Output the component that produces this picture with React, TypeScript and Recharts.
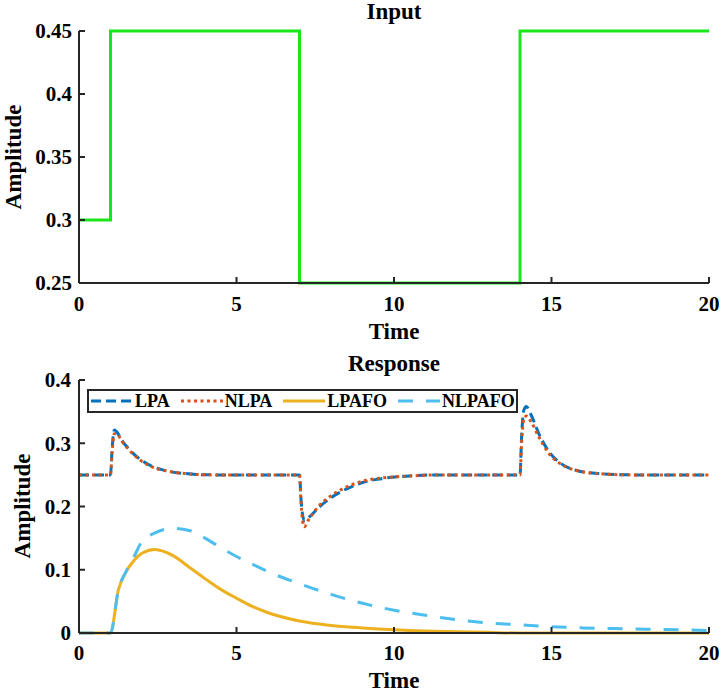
import { LineChart, Line, XAxis, YAxis, Legend } from 'recharts'

const FONT = '"Liberation Serif", "Times New Roman", serif'
const AXIS = '#262626'

// Input: step signal
const inputTime = [0, 1, 7, 14, 20]
const inputAmp = [0.3, 0.45, 0.25, 0.45, 0.45]

// Response: LPA / NLPA
const paTime = [0, 1, 1.05, 1.12, 1.2, 1.35, 1.6, 1.9, 2.3, 2.8, 3.4, 4.2, 7, 7.05, 7.15, 7.3, 7.6, 8, 8.5, 9, 9.6, 10.4, 11.5, 14, 14.05, 14.12, 14.2, 14.35, 14.6, 14.9, 15.3, 15.8, 16.5, 17.5, 20]
const lpa = [0.25, 0.25, 0.29, 0.321, 0.318, 0.305, 0.29, 0.276, 0.264, 0.256, 0.252, 0.25, 0.25, 0.21, 0.178, 0.183, 0.198, 0.214, 0.228, 0.238, 0.244, 0.248, 0.25, 0.25, 0.31, 0.352, 0.358, 0.345, 0.315, 0.288, 0.268, 0.257, 0.252, 0.25, 0.25]
const nlpa = [0.25, 0.25, 0.285, 0.315, 0.315, 0.304, 0.289, 0.275, 0.263, 0.256, 0.252, 0.25, 0.25, 0.205, 0.168, 0.18, 0.2, 0.217, 0.231, 0.24, 0.245, 0.248, 0.25, 0.25, 0.3, 0.338, 0.343, 0.334, 0.31, 0.285, 0.267, 0.257, 0.252, 0.25, 0.25]

// Response: LPAFO / NLPAFO
const foTime = [0, 1, 1.25, 1.5, 1.75, 2, 2.4, 3, 3.5, 4, 4.5, 5, 5.5, 6, 7, 8, 9, 10, 11, 12, 13, 14, 15, 16, 17, 18, 19, 20]
const lpafo = [0, 0, 0.068, 0.097, 0.115, 0.126, 0.132, 0.122, 0.104, 0.086, 0.069, 0.055, 0.042, 0.032, 0.019, 0.012, 0.008, 0.005, 0.003, 0.002, 0.001, 0, 0, 0, 0, 0, 0, 0]
const nlpafo = [0, 0, 0.068, 0.098, 0.121, 0.145, 0.158, 0.1655, 0.162, 0.15, 0.135, 0.121, 0.109, 0.097, 0.078, 0.061, 0.047, 0.036, 0.028, 0.021, 0.016, 0.013, 0.01, 0.008, 0.007, 0.006, 0.005, 0.004]

const timeTicks = [0, 5, 10, 15, 20]
const inputTicks = [0.25, 0.3, 0.35, 0.4, 0.45]
const responseTicks = [0, 0.1, 0.2, 0.3, 0.4]

const toPoints = (xs: number[], ys: number[]) => xs.map((t, i) => ({ t, v: ys[i] }))

const series = [
  { name: 'LPA', data: toPoints(paTime, lpa), color: '#0072BD', dash: '10 5' },
  { name: 'NLPA', data: toPoints(paTime, nlpa), color: '#D95319', dash: '3 3.5' },
  { name: 'LPAFO', data: toPoints(foTime, lpafo), color: '#EDB120', dash: undefined },
  { name: 'NLPAFO', data: toPoints(foTime, nlpafo), color: '#4DBEEE', dash: '15 13' },
]

const tickStyle = { fontSize: 21, fontFamily: FONT, fontWeight: 700, fill: '#000' }
const textStyle = { fontSize: 23, fontFamily: FONT, fontWeight: 700, fill: '#000' }

function titleLabel(text: string, x: number, y: number, rotate = false) {
  return () => (
    <text
      x={x}
      y={y}
      textAnchor="middle"
      transform={rotate ? `rotate(-90 ${x} ${y})` : undefined}
      style={textStyle}
    >
      {text}
    </text>
  )
}

function ResponseLegend() {
  return (
    <div
      style={{
        boxSizing: 'border-box',
        width: 431,
        height: 24,
        border: `2px solid ${AXIS}`,
        background: '#fff',
        display: 'flex',
        alignItems: 'center',
        paddingLeft: 2,
        fontFamily: FONT,
        fontWeight: 700,
        fontSize: 18,
        color: '#000',
      }}
    >
      {series.map((s) => (
        <div key={s.name} style={{ display: 'flex', alignItems: 'center', marginRight: 11 }}>
          <svg width={42} height={6}>
            <line x1={0} y1={3} x2={42} y2={3} stroke={s.color} strokeWidth={3} strokeDasharray={s.dash} />
          </svg>
          <span style={{ marginLeft: 2, lineHeight: '18px' }}>{s.name}</span>
        </div>
      ))}
    </div>
  )
}

const plotTitle = (text: string, top: number) => (
  <div
    style={{
      position: 'absolute',
      left: 79,
      width: 630,
      top,
      textAlign: 'center',
      fontFamily: FONT,
      fontWeight: 700,
      fontSize: 23,
      lineHeight: '23px',
      color: '#000',
    }}
  >
    {text}
  </div>
)

export default function App() {
  return (
    <div style={{ position: 'absolute', left: 0, top: 0, width: 725, height: 693, background: '#fff' }}>
      <div style={{ position: 'absolute', left: 0, top: 0 }}>
        <LineChart width={725} height={345} margin={{ top: 31, right: 16, bottom: 22, left: 0 }}>
          <XAxis
            dataKey="t"
            type="number"
            domain={[0, 20]}
            ticks={timeTicks}
            interval={0}
            height={40}
            tick={tickStyle}
            tickSize={-6}
            tickMargin={19}
            axisLine={{ stroke: AXIS, strokeWidth: 2 }}
            tickLine={{ stroke: AXIS, strokeWidth: 2 }}
            label={titleLabel('Time', 394, 283 + 56)}
          />
          <YAxis
            type="number"
            domain={[0.25, 0.45]}
            ticks={inputTicks}
            interval={0}
            width={79}
            tick={tickStyle}
            tickSize={-6}
            tickMargin={13}
            axisLine={{ stroke: AXIS, strokeWidth: 2 }}
            tickLine={{ stroke: AXIS, strokeWidth: 2 }}
            label={titleLabel('Amplitude', 21, 157, true)}
          />
          <Line
            data={toPoints(inputTime, inputAmp)}
            dataKey="v"
            type="stepAfter"
            stroke="#1AE61A"
            strokeWidth={3}
            dot={false}
            isAnimationActive={false}
          />
        </LineChart>
      </div>
      {plotTitle('Input', 0)}

      <div style={{ position: 'absolute', left: 0, top: 340 }}>
        <LineChart width={725} height={353} margin={{ top: 40, right: 16, bottom: 20, left: 0 }}>
          <XAxis
            dataKey="t"
            type="number"
            domain={[0, 20]}
            ticks={timeTicks}
            interval={0}
            height={40}
            tick={tickStyle}
            tickSize={-6}
            tickMargin={18}
            axisLine={{ stroke: AXIS, strokeWidth: 2 }}
            tickLine={{ stroke: AXIS, strokeWidth: 2 }}
            label={titleLabel('Time', 394, 293 + 55)}
          />
          <YAxis
            type="number"
            domain={[0, 0.4]}
            ticks={responseTicks}
            interval={0}
            width={79}
            tick={tickStyle}
            tickSize={-6}
            tickMargin={14}
            axisLine={{ stroke: AXIS, strokeWidth: 2 }}
            tickLine={{ stroke: AXIS, strokeWidth: 2 }}
            label={titleLabel('Amplitude', 30, 166, true)}
          />
          <Legend
            verticalAlign="middle"
            align="center"
            layout="horizontal"
            wrapperStyle={{ left: 87, top: 49, width: 431, height: 24 }}
            content={() => <ResponseLegend />}
          />
          {series.map((s) => (
            <Line
              key={s.name}
              name={s.name}
              data={s.data}
              dataKey="v"
              type="monotone"
              stroke={s.color}
              strokeWidth={3}
              strokeDasharray={s.dash}
              dot={false}
              isAnimationActive={false}
            />
          ))}
        </LineChart>
      </div>
      {plotTitle('Response', 352)}
    </div>
  )
}
